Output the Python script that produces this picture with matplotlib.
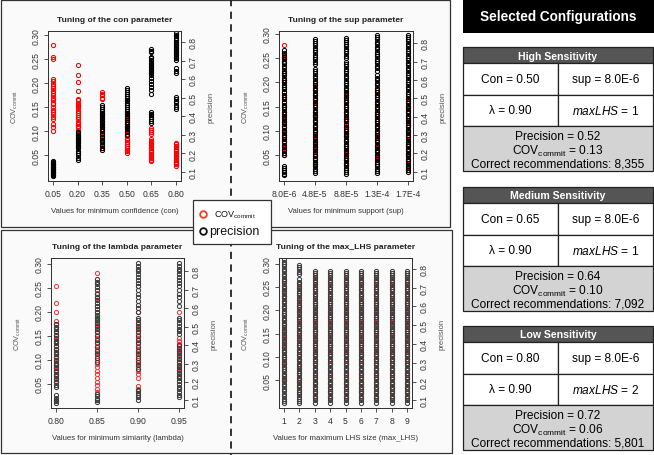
import matplotlib
matplotlib.use("Agg")
import matplotlib.pyplot as plt
from matplotlib.patches import Rectangle

plt.rcParams['font.family'] = ['Liberation Sans', 'DejaVu Sans']
plt.rcParams['mathtext.fontset'] = 'custom'
plt.rcParams['mathtext.rm'] = 'Liberation Sans'
plt.rcParams['mathtext.it'] = 'Liberation Sans:italic'
plt.rcParams['mathtext.bf'] = 'Liberation Sans:bold'

# ---------------------------------------------------------------- data
COV_TICKS = [0.05, 0.10, 0.15, 0.20, 0.25, 0.30]
PREC_TICKS = [0.1, 0.2, 0.3, 0.4, 0.5, 0.6, 0.7, 0.8]

# con parameter
CON_X = [0.05, 0.20, 0.35, 0.50, 0.65, 0.80]
CON_XLABELS = ['0.05', '0.20', '0.35', '0.50', '0.65', '0.80']
CON_COV = [
    [0.280, 0.255, 0.250, 0.210, 0.205, 0.198, 0.195, 0.190, 0.185, 0.180, 0.176, 0.170,
     0.166, 0.160, 0.156, 0.150, 0.145, 0.140, 0.136, 0.130, 0.125, 0.116, 0.110, 0.101],
    [0.238, 0.218, 0.202, 0.184, 0.168, 0.165, 0.160, 0.155, 0.152, 0.148, 0.142, 0.138,
     0.133, 0.130, 0.125, 0.120, 0.116, 0.112, 0.108, 0.102],
    [0.181, 0.178, 0.176, 0.170, 0.167, 0.137, 0.134, 0.130, 0.122, 0.115, 0.108, 0.104,
     0.100, 0.096, 0.090, 0.085, 0.080, 0.076, 0.070, 0.066],
    [0.138, 0.134, 0.130, 0.125, 0.120, 0.116, 0.112, 0.110, 0.106, 0.102, 0.098, 0.094,
     0.090, 0.085, 0.082, 0.078, 0.074, 0.070, 0.066, 0.062, 0.058, 0.055],
    [0.106, 0.102, 0.098, 0.095, 0.084, 0.080, 0.077, 0.074, 0.071, 0.068, 0.065, 0.062,
     0.059, 0.056, 0.053, 0.050, 0.047, 0.044, 0.041, 0.038],
    [0.076, 0.073, 0.070, 0.067, 0.064, 0.061, 0.058, 0.055, 0.052, 0.049, 0.046, 0.043,
     0.040, 0.037, 0.034, 0.031, 0.028],
]
CON_PREC = [
    [0.160, 0.155, 0.150, 0.146, 0.142, 0.138, 0.134, 0.130, 0.126, 0.122, 0.118, 0.114,
     0.110, 0.106, 0.102, 0.098, 0.094, 0.090, 0.086, 0.082, 0.078],
    [0.318, 0.310, 0.302, 0.296, 0.290, 0.284, 0.278, 0.272, 0.266, 0.260, 0.254, 0.248,
     0.242, 0.236, 0.230, 0.215, 0.200, 0.190, 0.178, 0.165],
    [0.460, 0.450, 0.440, 0.430, 0.420, 0.410, 0.400, 0.392, 0.384, 0.376, 0.368, 0.360,
     0.350, 0.340, 0.330, 0.320, 0.305, 0.290, 0.275, 0.260, 0.245, 0.230, 0.220],
    [0.552, 0.540, 0.530, 0.520, 0.510, 0.500, 0.490, 0.480, 0.470, 0.460, 0.450, 0.440,
     0.430, 0.420, 0.410, 0.400, 0.390, 0.380, 0.370, 0.360, 0.350, 0.340, 0.330, 0.315, 0.300],
    [0.760, 0.752, 0.744, 0.720, 0.712, 0.704, 0.696, 0.688, 0.680, 0.672, 0.664, 0.656,
     0.648, 0.640, 0.632, 0.620, 0.605, 0.590, 0.575, 0.560, 0.540, 0.520, 0.425, 0.415,
     0.405, 0.395, 0.385, 0.375, 0.365],
    [0.850, 0.840, 0.830, 0.820, 0.810, 0.800, 0.792, 0.784, 0.776, 0.768, 0.760, 0.752,
     0.744, 0.736, 0.728, 0.720, 0.712, 0.704, 0.660, 0.645, 0.632, 0.505, 0.495, 0.485,
     0.475, 0.460, 0.450, 0.440],
]

# sup parameter
SUP_X = [1, 2, 3, 4, 5]
SUP_XLABELS = ['8.0E-6', '4.8E-5', '8.8E-5', '1.3E-4', '1.7E-4']
SUP_COV = [
    [0.278, 0.255, 0.250, 0.245, 0.240, 0.220, 0.205, 0.200, 0.180, 0.175, 0.170, 0.165,
     0.160, 0.150, 0.140, 0.135, 0.130, 0.120, 0.110, 0.100, 0.095, 0.090, 0.080, 0.070,
     0.065, 0.060, 0.050],
    [0.200, 0.195, 0.185, 0.175, 0.165, 0.160, 0.140, 0.135, 0.130, 0.120, 0.110, 0.100,
     0.090, 0.080, 0.070, 0.060, 0.050, 0.045, 0.040, 0.035, 0.030],
    [0.180, 0.170, 0.160, 0.150, 0.140, 0.130, 0.125, 0.120, 0.110, 0.100, 0.095, 0.090,
     0.080, 0.070, 0.060, 0.050, 0.045, 0.040, 0.035, 0.030],
    [0.180, 0.175, 0.160, 0.150, 0.140, 0.135, 0.130, 0.120, 0.110, 0.100, 0.090, 0.080,
     0.070, 0.065, 0.060, 0.050, 0.045, 0.040],
    [0.165, 0.160, 0.150, 0.145, 0.140, 0.130, 0.120, 0.110, 0.100, 0.095, 0.090, 0.080,
     0.070, 0.060, 0.055, 0.050, 0.040, 0.030, 0.025, 0.020],
]
SUP_PREC = [
    [0.760, 0.748, 0.735, 0.722, 0.712, 0.700, 0.690, 0.676, 0.664, 0.650, 0.640, 0.626,
     0.612, 0.600, 0.588, 0.574, 0.560, 0.548, 0.534, 0.520, 0.506, 0.494, 0.480, 0.466,
     0.452, 0.440, 0.426, 0.412, 0.398, 0.386, 0.372, 0.358, 0.344, 0.330, 0.316, 0.302,
     0.290, 0.276, 0.262, 0.248, 0.234, 0.220, 0.205, 0.190, 0.133, 0.122, 0.111, 0.100,
     0.090, 0.080],
    [0.825, 0.812, 0.800, 0.788, 0.775, 0.762, 0.750, 0.738, 0.724, 0.712, 0.700, 0.688,
     0.662, 0.650, 0.636, 0.622, 0.610, 0.596, 0.584, 0.570, 0.556, 0.544, 0.530, 0.516,
     0.504, 0.490, 0.476, 0.464, 0.450, 0.436, 0.424, 0.410, 0.396, 0.384, 0.370, 0.356,
     0.344, 0.330, 0.316, 0.304, 0.290, 0.276, 0.264, 0.250, 0.236, 0.224, 0.210, 0.196,
     0.184, 0.170, 0.156, 0.144, 0.130, 0.118, 0.106, 0.095],
    [0.830, 0.818, 0.806, 0.794, 0.782, 0.770, 0.756, 0.744, 0.732, 0.720, 0.700, 0.688,
     0.674, 0.660, 0.648, 0.636, 0.622, 0.610, 0.596, 0.584, 0.570, 0.558, 0.544, 0.530,
     0.518, 0.504, 0.492, 0.478, 0.466, 0.452, 0.440, 0.426, 0.412, 0.400, 0.386, 0.374,
     0.360, 0.346, 0.334, 0.320, 0.308, 0.294, 0.280, 0.268, 0.254, 0.242, 0.228, 0.214,
     0.202, 0.188, 0.176, 0.162, 0.148, 0.136, 0.122, 0.110, 0.098, 0.090],
    [0.845, 0.832, 0.820, 0.806, 0.794, 0.780, 0.768, 0.754, 0.742, 0.728, 0.716, 0.702,
     0.690, 0.676, 0.664, 0.650, 0.624, 0.610, 0.598, 0.584, 0.572, 0.558, 0.546, 0.532,
     0.520, 0.506, 0.494, 0.480, 0.468, 0.454, 0.442, 0.428, 0.416, 0.402, 0.390, 0.376,
     0.364, 0.350, 0.338, 0.324, 0.312, 0.298, 0.286, 0.272, 0.260, 0.246, 0.234, 0.220,
     0.208, 0.194, 0.182, 0.168, 0.156, 0.142, 0.130, 0.116, 0.104, 0.095],
    [0.845, 0.834, 0.822, 0.810, 0.796, 0.784, 0.770, 0.758, 0.744, 0.732, 0.718, 0.706,
     0.692, 0.680, 0.666, 0.654, 0.640, 0.628, 0.614, 0.602, 0.588, 0.576, 0.562, 0.550,
     0.536, 0.524, 0.510, 0.498, 0.484, 0.472, 0.458, 0.446, 0.432, 0.420, 0.406, 0.394,
     0.380, 0.368, 0.354, 0.342, 0.328, 0.316, 0.302, 0.290, 0.276, 0.264, 0.250, 0.238,
     0.224, 0.212, 0.198, 0.186, 0.172, 0.160, 0.146, 0.134, 0.120, 0.108, 0.098],
]

# lambda parameter
LAM_X = [0.80, 0.85, 0.90, 0.95]
LAM_XLABELS = ['0.80', '0.85', '0.90', '0.95']
LAM_COV = [
    [0.254, 0.218, 0.199, 0.181, 0.175, 0.160, 0.150, 0.140, 0.135, 0.128, 0.120, 0.112,
     0.105, 0.098, 0.092, 0.085, 0.080, 0.075, 0.068, 0.062, 0.057],
    [0.281, 0.239, 0.229, 0.212, 0.200, 0.190, 0.182, 0.175, 0.168, 0.160, 0.152, 0.145,
     0.138, 0.130, 0.122, 0.115, 0.108, 0.100, 0.092, 0.085, 0.078, 0.070, 0.062, 0.055,
     0.048, 0.040, 0.034],
    [0.254, 0.200, 0.175, 0.168, 0.160, 0.152, 0.145, 0.138, 0.130, 0.122, 0.115, 0.108,
     0.100, 0.092, 0.085, 0.078, 0.070, 0.063, 0.046, 0.040, 0.035],
    [0.200, 0.146, 0.140, 0.134, 0.128, 0.120, 0.112, 0.105, 0.098, 0.090, 0.083, 0.076,
     0.070, 0.063, 0.056],
]
LAM_PREC = [
    [0.516, 0.500, 0.485, 0.470, 0.455, 0.440, 0.425, 0.410, 0.395, 0.380, 0.365, 0.350,
     0.335, 0.320, 0.305, 0.290, 0.275, 0.260, 0.245, 0.230, 0.215, 0.200, 0.185, 0.172,
     0.127, 0.115, 0.105, 0.095, 0.085],
    [0.760, 0.745, 0.730, 0.715, 0.700, 0.680, 0.660, 0.645, 0.630, 0.610, 0.595, 0.580,
     0.565, 0.550, 0.535, 0.520, 0.505, 0.490, 0.470, 0.450, 0.430, 0.410, 0.390, 0.370,
     0.350, 0.330, 0.310, 0.136, 0.122, 0.110, 0.100, 0.090],
    [0.845, 0.830, 0.815, 0.800, 0.785, 0.770, 0.755, 0.740, 0.720, 0.700, 0.680, 0.660,
     0.640, 0.620, 0.600, 0.580, 0.550, 0.535, 0.520, 0.505, 0.490, 0.470, 0.450, 0.430,
     0.410, 0.390, 0.370, 0.350, 0.330, 0.310, 0.290, 0.270, 0.154, 0.140, 0.128, 0.116, 0.104],
    [0.845, 0.830, 0.815, 0.800, 0.785, 0.770, 0.755, 0.740, 0.720, 0.700, 0.680, 0.660,
     0.640, 0.615, 0.550, 0.535, 0.520, 0.505, 0.490, 0.475, 0.460, 0.400, 0.385, 0.370,
     0.355, 0.340, 0.325, 0.310, 0.295, 0.280, 0.265, 0.250, 0.235, 0.220, 0.205, 0.190,
     0.175, 0.160, 0.145, 0.130, 0.118],
]

# max_LHS parameter
LHS_X = [1, 2, 3, 4, 5, 6, 7, 8, 9]
LHS_XLABELS = ['1', '2', '3', '4', '5', '6', '7', '8', '9']
LHS_COV_1 = [0.265, 0.250, 0.243, 0.230, 0.220, 0.205, 0.190, 0.180, 0.170, 0.160, 0.150,
             0.140, 0.130, 0.120, 0.110, 0.100, 0.092, 0.085, 0.078, 0.070, 0.062, 0.055, 0.050]
LHS_COV_2 = [0.258, 0.245, 0.232, 0.220, 0.210, 0.198, 0.186, 0.175, 0.165, 0.155, 0.145,
             0.135, 0.125, 0.115, 0.105, 0.095, 0.085, 0.075, 0.065, 0.055, 0.045, 0.038,
             0.030, 0.022]
LHS_COV_REST = [0.270, 0.255, 0.245, 0.235, 0.225, 0.215, 0.205, 0.195, 0.185, 0.175, 0.165,
                0.155, 0.145, 0.135, 0.125, 0.115, 0.105, 0.095, 0.085, 0.075, 0.065, 0.055,
                0.045, 0.035, 0.025, 0.015]
LHS_PREC_1 = [0.850, 0.838, 0.826, 0.812, 0.800, 0.786, 0.774, 0.760, 0.748, 0.734, 0.722,
              0.708, 0.696, 0.682, 0.670, 0.656, 0.644, 0.630, 0.618, 0.604, 0.592, 0.578,
              0.566, 0.552, 0.540, 0.526, 0.514, 0.500, 0.488, 0.474, 0.462, 0.448, 0.436,
              0.422, 0.410, 0.396, 0.384, 0.370, 0.358, 0.344, 0.332, 0.318, 0.306, 0.292,
              0.280, 0.266, 0.254, 0.240, 0.228, 0.214, 0.202, 0.188, 0.176, 0.162, 0.150,
              0.136, 0.124, 0.110, 0.098, 0.086]
LHS_PREC_2 = [0.820, 0.808, 0.796, 0.784, 0.772, 0.745, 0.732, 0.720, 0.708, 0.696, 0.684,
              0.670, 0.658, 0.646, 0.634, 0.620, 0.608, 0.596, 0.584, 0.570, 0.558, 0.546,
              0.534, 0.520, 0.508, 0.496, 0.484, 0.470, 0.458, 0.446, 0.434, 0.420, 0.408,
              0.396, 0.384, 0.370, 0.358, 0.346, 0.334, 0.320, 0.308, 0.296, 0.284, 0.270,
              0.258, 0.246, 0.234, 0.220, 0.208, 0.196, 0.184, 0.170, 0.158, 0.146, 0.134,
              0.120, 0.108, 0.096, 0.086]
LHS_PREC_REST = [0.790, 0.778, 0.766, 0.754, 0.742, 0.730, 0.718, 0.704, 0.692, 0.680, 0.668,
                 0.656, 0.644, 0.630, 0.618, 0.606, 0.594, 0.582, 0.570, 0.556, 0.544, 0.532,
                 0.520, 0.508, 0.496, 0.482, 0.470, 0.458, 0.446, 0.434, 0.422, 0.408, 0.396,
                 0.384, 0.372, 0.360, 0.348, 0.334, 0.322, 0.310, 0.298, 0.286, 0.274, 0.260,
                 0.248, 0.236, 0.224, 0.212, 0.200, 0.186, 0.174, 0.162, 0.150, 0.138, 0.126,
                 0.112, 0.100, 0.088]
LHS_COV = [LHS_COV_1, LHS_COV_2] + [LHS_COV_REST] * 7
LHS_PREC = [LHS_PREC_1, LHS_PREC_2] + [LHS_PREC_REST] * 7

# selected configurations
CFG_NAMES = ['High Sensitivity', 'Medium Sensitivity', 'Low Sensitivity']
CFG_CON = ['0.50', '0.65', '0.80']
CFG_SUP = ['8.0E-6', '8.0E-6', '8.0E-6']
CFG_LAMBDA = ['0.90', '0.90', '0.90']
CFG_MAXLHS = ['1', '1', '2']
CFG_PRECISION = ['0.52', '0.64', '0.72']
CFG_COV = ['0.13', '0.10', '0.06']
CFG_CORRECT = ['8,355', '7,092', '5,801']

# ---------------------------------------------------------------- style
W, H = 654, 456
PANEL_BG = '#fafafa'
EDGE = '#333333'
TICK_C = '#333333'
COV_LABEL = r'COV$_{\mathrm{commit}}$'

fig = plt.figure(figsize=(W / 100, H / 100), dpi=100)

bg = fig.add_axes([0, 0, 1, 1], zorder=0)
bg.set_xlim(0, W)
bg.set_ylim(H, 0)
bg.axis('off')


def px_axes(x0, y0, x1, y1, z=2):
    return fig.add_axes([x0 / W, 1 - y1 / H, (x1 - x0) / W, (y1 - y0) / H], zorder=z)


def draw_panel(box, xs, cov_cols, prec_cols, xlabels, title, xlabel,
               xlim, cov_lim, prec_lim, red, black):
    ax = px_axes(*box)
    ax.set_facecolor(PANEL_BG)
    for x, vals in zip(xs, cov_cols):
        ax.plot([x] * len(vals), vals, ls='none', marker='o', ms=3.0,
                mfc='none', mec=red, mew=0.75)
    ax.set_xlim(*xlim)
    ax.set_ylim(*cov_lim)
    ax.set_xticks(xs)
    ax.set_xticklabels(xlabels)
    ax.set_yticks(COV_TICKS)
    ax.set_yticklabels([f"{t:.2f}" for t in COV_TICKS])

    ax2 = ax.twinx()
    for x, vals in zip(xs, prec_cols):
        ax2.plot([x] * len(vals), vals, ls='none', marker='o', ms=3.0,
                 mfc='none', mec=black, mew=0.75)
    ax2.set_ylim(*prec_lim)
    ax2.set_yticks(PREC_TICKS)
    ax2.set_yticklabels([f"{t:.1f}" for t in PREC_TICKS])

    for a in (ax, ax2):
        for s in a.spines.values():
            s.set_color(EDGE)
            s.set_linewidth(0.7)
        a.tick_params(direction='out', length=3, width=0.6, color=EDGE,
                      labelcolor=TICK_C, labelsize=6.2, pad=2.5)
    for lbl in ax.get_yticklabels() + ax2.get_yticklabels():
        lbl.set_rotation(90)
        lbl.set_va('center')

    ax.set_title(title, fontsize=6.1, fontweight='bold', color='#222222', pad=7)
    ax.set_xlabel(xlabel, fontsize=5.6, color=TICK_C, labelpad=7)
    ax.set_ylabel(COV_LABEL, fontsize=5.2, color='#555555', labelpad=8)
    ax2.set_ylabel('precision', fontsize=5.6, color='#555555', labelpad=7)
    return ax, ax2


# panel frames and dashed separator
bg.add_patch(Rectangle((1, 1), 449, 227, facecolor=PANEL_BG, edgecolor=EDGE, lw=0.9))
bg.add_patch(Rectangle((1, 231), 451, 223, facecolor=PANEL_BG, edgecolor=EDGE, lw=0.9))
bg.plot([231, 231], [0, H], color='#222222', lw=1.3, dashes=(4, 3))

draw_panel((48, 32, 181, 182), CON_X, CON_COV, CON_PREC, CON_XLABELS,
           'Tuning of the con parameter', 'Values for minimum confidence (con)',
           (0.02, 0.83), (-0.0035, 0.309), (0.052, 0.859), '#ff0000', '#000000')
draw_panel((279, 32, 413, 182), SUP_X, SUP_COV, SUP_PREC, SUP_XLABELS,
           'Tuning of the sup parameter', 'Values for minimum support (sup)',
           (0.84, 5.16), (-0.003, 0.306), (0.05, 0.866), '#ff0000', '#000000')
draw_panel((51, 259, 184, 409), LAM_X, LAM_COV, LAM_PREC, LAM_XLABELS,
           'Tuning of the lambda parameter', 'Values for minimum simiarity (lambda)',
           (0.794, 0.956), (0.0, 0.312), (0.059, 0.873), '#f03c3c', '#3c3c3c')
draw_panel((279, 259, 412, 409), LHS_X, LHS_COV, LHS_PREC, LHS_XLABELS,
           'Tuning of the max_LHS parameter', 'Values for maximum LHS size (max_LHS)',
           (0.68, 9.32), (-0.009, 0.312), (0.06, 0.857), '#f03c3c', '#3c3c3c')

# ---------------------------------------------------------------- legend
fg = fig.add_axes([0, 0, 1, 1], zorder=10)
fg.set_xlim(0, W)
fg.set_ylim(H, 0)
fg.axis('off')
fg.add_patch(Rectangle((193, 201), 78, 44, facecolor='white', edgecolor=EDGE, lw=0.9))
fg.plot([203], [215], ls='none', marker='o', ms=4.8, mfc='none', mec='#ff3b1f', mew=1.3)
fg.plot([203], [232], ls='none', marker='o', ms=4.8, mfc='none', mec='#111111', mew=1.3)
fg.text(214, 215, COV_LABEL, fontsize=6.5, ha='left', va='center', color='#111111')
fg.text(209.5, 232, 'precision', fontsize=9, ha='left', va='center', color='#111111')

# ---------------------------------------------------------------- configurations
X0, XM, X1 = 463, 558, 653
bg.add_patch(Rectangle((X0, 1), W - X0, 33, facecolor='black', edgecolor='black', lw=0))
bg.text((X0 + W) / 2, 17.5, 'Selected Configurations', color='white', fontsize=9.8,
        fontweight='bold', ha='center', va='center')

TOPS = [48, 188, 327]
for i, top in enumerate(TOPS):
    h_head, h_row, h_gray = 16, 31.5, 45
    y_r1 = top + h_head
    y_r2 = y_r1 + h_row
    y_g = y_r2 + h_row
    bg.add_patch(Rectangle((X0, top), X1 - X0, h_head, facecolor='#555555', edgecolor='#222222', lw=0.9))
    bg.add_patch(Rectangle((X0, y_r1), XM - X0, h_row, facecolor='white', edgecolor='#222222', lw=0.9))
    bg.add_patch(Rectangle((XM, y_r1), X1 - XM, h_row, facecolor='white', edgecolor='#222222', lw=0.9))
    bg.add_patch(Rectangle((X0, y_r2), XM - X0, h_row, facecolor='white', edgecolor='#222222', lw=0.9))
    bg.add_patch(Rectangle((XM, y_r2), X1 - XM, h_row, facecolor='white', edgecolor='#222222', lw=0.9))
    bg.add_patch(Rectangle((X0, y_g), X1 - X0, h_gray, facecolor='#d3d3d3', edgecolor='#222222', lw=0.9))

    bg.text((X0 + X1) / 2, top + h_head / 2 + 0.5, CFG_NAMES[i], color='white', fontsize=7.6,
            fontweight='bold', ha='center', va='center')
    bg.text((X0 + XM) / 2, y_r1 + h_row / 2, f"Con = {CFG_CON[i]}", fontsize=8.6,
            ha='center', va='center')
    bg.text((XM + X1) / 2, y_r1 + h_row / 2, f"sup = {CFG_SUP[i]}", fontsize=8.6,
            ha='center', va='center')
    bg.text((X0 + XM) / 2, y_r2 + h_row / 2, f"\u03bb = {CFG_LAMBDA[i]}", fontsize=8.6,
            ha='center', va='center')
    bg.text((XM + X1) / 2, y_r2 + h_row / 2, r"$\mathit{maxLHS}$ = " + CFG_MAXLHS[i],
            fontsize=8.6, ha='center', va='center')
    bg.text((X0 + X1) / 2, y_g + 10, f"Precision = {CFG_PRECISION[i]}", fontsize=8.6,
            ha='center', va='center')
    bg.text((X0 + X1) / 2, y_g + 24, COV_LABEL + f" = {CFG_COV[i]}", fontsize=8.6,
            ha='center', va='center')
    bg.text((X0 + X1) / 2, y_g + 38, f"Correct recommendations: {CFG_CORRECT[i]}",
            fontsize=8.6, ha='center', va='center')

fig.savefig('out.png', dpi=100)
